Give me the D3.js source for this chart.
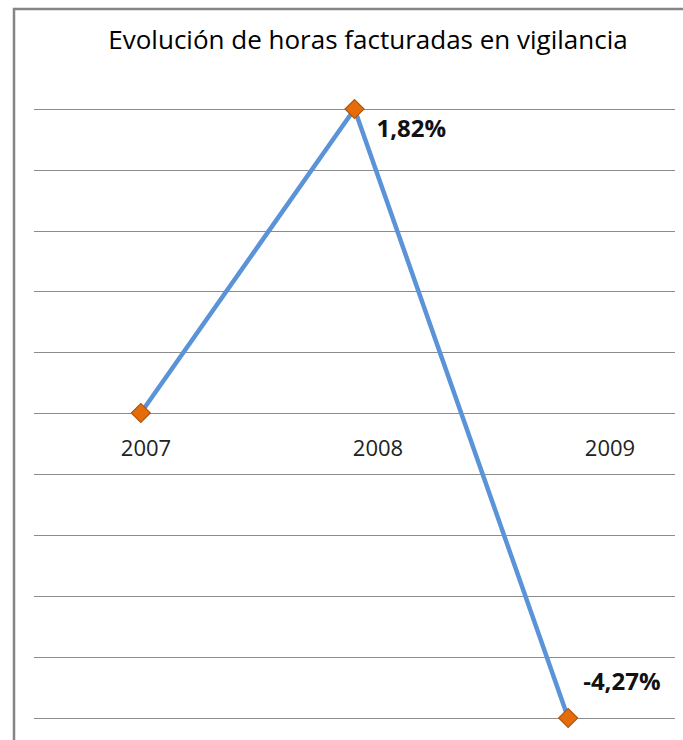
<!DOCTYPE html>
<html lang="es">
<head>
  <meta charset="UTF-8" />
  <title>Evolución de horas facturadas en vigilancia</title>
  <script src="https://d3js.org/d3.v7.min.js"></script>
  <style>
    body { margin: 0; background: #fff; }
    .title { font-family: "Open Sans", sans-serif; font-size: 26px; fill: #000; }
    .cat { font-family: "Open Sans", sans-serif; font-size: 22px; fill: #222; }
    .dlabel { font-family: "Open Sans", sans-serif; font-size: 24px; font-weight: bold; fill: #111; }
    .grid line { stroke: #8c8c8c; stroke-width: 1.2; }
  </style>
</head>
<body>
  <div id="chart"></div>

  <script>
    // Data
    const years = ["2007", "2008", "2009"];
    const values = [0, 1.82, -4.27];
    const valueLabels = ["", "1,82%", "-4,27%"];
    const gridSteps = 5; // gridlines on each side of zero

    const width = 683, height = 740;
    const plot = { left: 34, right: 675, top: 109, zero: 413, bottom: 718 };

    const svg = d3.select("#chart").append("svg")
      .attr("width", width)
      .attr("height", height);

    // outer chart border (cropped at right and bottom)
    svg.append("rect")
      .attr("x", 14).attr("y", 9)
      .attr("width", 720).attr("height", 780)
      .attr("fill", "none")
      .attr("stroke", "#858585")
      .attr("stroke-width", 2.5);

    svg.append("text")
      .attr("class", "title")
      .attr("x", 368).attr("y", 49)
      .attr("text-anchor", "middle")
      .text("Evolución de horas facturadas en vigilancia");

    // Scales
    const x = d3.scaleBand()
      .domain(years)
      .range([plot.left, plot.right]);

    // category labels sit a little to the right of the points
    const xLabel = d3.scalePoint()
      .domain(years)
      .range([146, 610]);

    const yMin = d3.min(values), yMax = d3.max(values);
    const y = d3.scaleLinear()
      .domain([yMin, 0, yMax])
      .range([plot.bottom, plot.zero, plot.top]);

    // gridlines: evenly spaced above and below zero
    const gridVals = d3.range(-gridSteps, gridSteps + 1)
      .map(i => i < 0 ? yMin * (-i / gridSteps) : yMax * (i / gridSteps));

    svg.append("g")
      .attr("class", "grid")
      .selectAll("line")
      .data(gridVals)
      .enter().append("line")
      .attr("x1", plot.left).attr("x2", plot.right)
      .attr("y1", d => Math.round(y(d)) + 0.5)
      .attr("y2", d => Math.round(y(d)) + 0.5);

    // Category labels
    svg.append("g")
      .selectAll("text")
      .data(years)
      .enter().append("text")
      .attr("class", "cat")
      .attr("x", d => xLabel(d))
      .attr("y", y(0) + 43)
      .attr("text-anchor", "middle")
      .text(d => d);

    const cx = d => x(d) + x.bandwidth() / 2;

    // Line
    const line = d3.line()
      .x((d, i) => cx(years[i]))
      .y(d => y(d));

    svg.append("path")
      .datum(values)
      .attr("fill", "none")
      .attr("stroke", "#5b93d8")
      .attr("stroke-width", 4.5)
      .attr("stroke-linejoin", "round")
      .attr("d", line);

    // Markers (diamonds)
    svg.append("g")
      .selectAll("path")
      .data(values)
      .enter().append("path")
      .attr("transform", (d, i) => `translate(${cx(years[i])},${y(d)}) rotate(45)`)
      .attr("d", d3.symbol().type(d3.symbolSquare).size(180))
      .attr("fill", "#e46c0a")
      .attr("stroke", "#a9550d")
      .attr("stroke-width", 1.2);

    // Data labels
    svg.append("g")
      .selectAll("text")
      .data(values)
      .enter().append("text")
      .attr("class", "dlabel")
      .attr("x", (d, i) => cx(years[i]) + (d < 0 ? 15 : 22))
      .attr("y", d => d < 0 ? y(d) - 28 : y(d) + 28)
      .attr("text-anchor", "start")
      .text((d, i) => valueLabels[i]);
  </script>
</body>
</html>
